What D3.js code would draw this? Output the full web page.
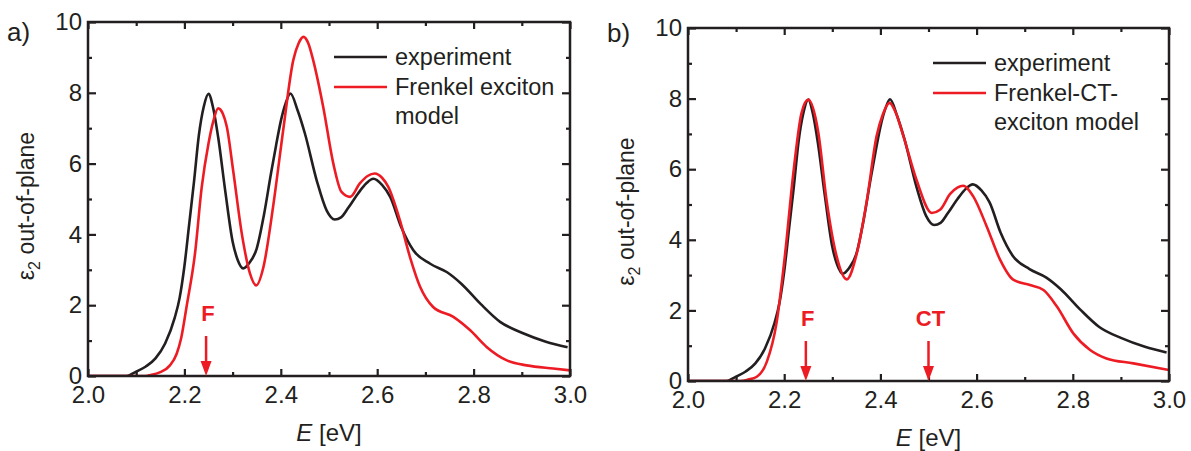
<!DOCTYPE html>
<html>
<head>
<meta charset="utf-8">
<script src="https://cdn.jsdelivr.net/npm/d3@7"></script>
<style>
  body { margin: 0; background: #fff; }
  svg { display: block; }
  text { font-family: "Liberation Sans", Arial, Helvetica, sans-serif; }
</style>
</head>
<body>
<svg id="chart" width="1191" height="451"></svg>
<script>
// ---- data -------------------------------------------------------------
const xTicks = [2.0, 2.2, 2.4, 2.6, 2.8, 3.0];
const xMinorTicks = [2.1, 2.3, 2.5, 2.7, 2.9];
const yTicks = [0, 2, 4, 6, 8, 10];
const yMinorTicks = [1, 3, 5, 7, 9];

// measured out-of-plane eps2 (same data in both panels)
const expEnergy = [2.00, 2.05, 2.08, 2.09, 2.10, 2.12, 2.14, 2.16, 2.18, 2.19, 2.20, 2.21, 2.22, 2.23, 2.24, 2.25,
  2.26, 2.27, 2.285, 2.30, 2.31, 2.322, 2.335, 2.35, 2.365, 2.38, 2.39, 2.40, 2.41, 2.42, 2.435, 2.45,
  2.475, 2.495, 2.512, 2.525, 2.54, 2.56, 2.578, 2.592, 2.61, 2.627, 2.65, 2.675, 2.71, 2.745, 2.775,
  2.815, 2.855, 2.90, 2.95, 2.995];
const expEps = [0, 0, 0.0, 0.05, 0.12, 0.27, 0.5, 0.92, 1.65, 2.2, 3.1, 4.3, 5.5, 6.8, 7.6, 7.97,
  7.55, 6.75, 5.2, 3.8, 3.3, 3.04, 3.2, 3.6, 4.55, 5.75, 6.5, 7.2, 7.7, 7.98, 7.5, 6.85,
  5.5, 4.68, 4.42, 4.48, 4.75, 5.15, 5.45, 5.57, 5.4, 5.06, 4.2, 3.55, 3.17, 2.93, 2.6,
  2.03, 1.53, 1.22, 0.97, 0.81];

// Frenkel exciton model
const frenkelEnergy = [2.00, 2.12, 2.13, 2.15, 2.17, 2.184, 2.193, 2.205, 2.222, 2.236, 2.25, 2.26, 2.27, 2.28,
  2.288, 2.301, 2.319, 2.336, 2.349, 2.364, 2.384, 2.405, 2.426, 2.437, 2.447, 2.457, 2.467, 2.488,
  2.509, 2.526, 2.544, 2.564, 2.58, 2.595, 2.61, 2.623, 2.647, 2.668, 2.689, 2.716, 2.758, 2.793,
  2.827, 2.869, 2.91, 2.965, 3.0];
const frenkelEps = [0, 0, 0.03, 0.11, 0.3, 0.63, 1.05, 2.0, 3.46, 5.34, 6.57, 7.2, 7.56, 7.4,
  7.04, 5.82, 4.03, 2.9, 2.56, 3.08, 4.78, 6.95, 8.93, 9.4, 9.58, 9.4, 8.93, 7.6,
  6.0, 5.2, 5.06, 5.44, 5.65, 5.72, 5.6, 5.34, 4.4, 3.36, 2.52, 1.95, 1.67, 1.29,
  0.82, 0.44, 0.3, 0.21, 0.16];

// Frenkel-CT exciton model
const ctEnergy = [2.00, 2.11, 2.125, 2.143, 2.164, 2.184, 2.202, 2.219, 2.236, 2.25, 2.271, 2.288, 2.309, 2.33,
  2.351, 2.372, 2.392, 2.405, 2.419, 2.432, 2.448, 2.475, 2.507, 2.524, 2.545, 2.56, 2.572, 2.593,
  2.621, 2.649, 2.676, 2.711, 2.739, 2.767, 2.801, 2.836, 2.87, 2.926, 3.0];
const ctEps = [0, 0, 0.04, 0.12, 0.55, 1.64, 3.62, 5.89, 7.59, 7.97, 7.03, 5.13, 3.53, 2.88,
  3.62, 5.13, 6.93, 7.55, 7.88, 7.6, 6.93, 5.7, 4.76, 4.85, 5.3, 5.48, 5.53, 5.23,
  4.38, 3.43, 2.87, 2.72, 2.58, 2.11, 1.35, 0.88, 0.64, 0.5, 0.31];

const markerLabelsA = ["F"];
const markerEnergyA = [2.245];
const markerLabelsB = ["F", "CT"];
const markerEnergyB = [2.245, 2.50];

const legendLabelsA = [["experiment"], ["Frenkel exciton", "model"]];
const legendLabelsB = [["experiment"], ["Frenkel-CT-", "exciton model"]];

// ---- styling ----------------------------------------------------------
const BLACK = "#231f20";
const RED = "#ed1c24";
const zip = (xs, ys) => xs.map((x, i) => ({ e: x, v: ys[i] }));

const svg = d3.select("#chart");

function drawPanel(cfg) {
  const g = svg.append("g");
  const x = d3.scaleLinear().domain([2.0, 3.0]).range([cfg.left, cfg.right]);
  const y = d3.scaleLinear().domain([0, 10]).range([cfg.bottom, cfg.top]);

  // curves
  const line = d3.line().x(d => x(d.e)).y(d => y(d.v)).curve(d3.curveMonotoneX);
  const clipId = "clip-" + cfg.id;
  svg.append("clipPath").attr("id", clipId)
    .append("rect").attr("x", cfg.left).attr("y", cfg.top)
    .attr("width", cfg.right - cfg.left).attr("height", cfg.bottom - cfg.top);
  const curves = g.append("g").attr("clip-path", `url(#${clipId})`);
  cfg.series.forEach(s => {
    curves.append("path").datum(zip(s.energy, s.eps))
      .attr("fill", "none").attr("stroke", s.color)
      .attr("stroke-width", 2.6).attr("stroke-linejoin", "round")
      .attr("d", line);
  });

  // axes (ticks point inward on all four sides)
  const fs = 24;
  const styleAxis = sel => {
    sel.select(".domain").remove();
    sel.selectAll("line").attr("stroke", BLACK).attr("stroke-width", 2.2);
    sel.selectAll("text").style("font-size", fs + "px").style("fill", BLACK)
      .style("font-family", '"Liberation Sans", Arial, sans-serif');
  };
  g.append("g").attr("transform", `translate(0,${cfg.bottom})`)
    .call(d3.axisBottom(x).tickValues(xTicks).tickFormat(d3.format(".1f")).tickSize(-7).tickPadding(10))
    .call(styleAxis);
  g.append("g").attr("transform", `translate(0,${cfg.bottom})`)
    .call(d3.axisBottom(x).tickValues(xMinorTicks).tickFormat("").tickSize(-4))
    .call(styleAxis);
  g.append("g").attr("transform", `translate(0,${cfg.top})`)
    .call(d3.axisTop(x).tickValues(xTicks).tickFormat("").tickSize(-7))
    .call(styleAxis);
  g.append("g").attr("transform", `translate(0,${cfg.top})`)
    .call(d3.axisTop(x).tickValues(xMinorTicks).tickFormat("").tickSize(-4))
    .call(styleAxis);
  g.append("g").attr("transform", `translate(${cfg.left},0)`)
    .call(d3.axisLeft(y).tickValues(yTicks).tickFormat(d3.format("d")).tickSize(-8).tickPadding(6))
    .call(styleAxis);
  g.append("g").attr("transform", `translate(${cfg.left},0)`)
    .call(d3.axisLeft(y).tickValues(yMinorTicks).tickFormat("").tickSize(-4))
    .call(styleAxis);
  g.append("g").attr("transform", `translate(${cfg.right},0)`)
    .call(d3.axisRight(y).tickValues(yTicks).tickFormat("").tickSize(-8))
    .call(styleAxis);
  g.append("g").attr("transform", `translate(${cfg.right},0)`)
    .call(d3.axisRight(y).tickValues(yMinorTicks).tickFormat("").tickSize(-4))
    .call(styleAxis);

  // frame
  g.append("rect").attr("x", cfg.left).attr("y", cfg.top)
    .attr("width", cfg.right - cfg.left).attr("height", cfg.bottom - cfg.top)
    .attr("fill", "none").attr("stroke", BLACK).attr("stroke-width", 2.5);

  // axis titles
  const xl = g.append("text").attr("x", (cfg.left + cfg.right) / 2).attr("y", cfg.bottom + 65)
    .attr("text-anchor", "middle").style("font-size", "24px").style("fill", BLACK);
  xl.append("tspan").style("font-style", "italic").text("E");
  xl.append("tspan").text(" [eV]");

  const yl = g.append("text")
    .attr("transform", `translate(${cfg.left - 54},${(cfg.top + cfg.bottom) / 2 + 7}) rotate(-90)`)
    .attr("text-anchor", "middle").style("font-size", "23px").style("fill", BLACK);
  yl.append("tspan").text("\u03b5");
  yl.append("tspan").attr("dy", 6).style("font-size", "16px").text("2");
  yl.append("tspan").attr("dy", -6).text(" out-of-plane");

  // panel letter
  g.append("text").attr("x", cfg.letterX).attr("y", cfg.letterY)
    .style("font-size", "26px").style("fill", BLACK).text(cfg.letter);

  // transition markers
  cfg.markers.forEach(m => {
    const mx = x(m.e);
    const y0 = y(0);
    g.append("text").attr("x", mx + 2).attr("y", y0 - 55)
      .attr("text-anchor", "middle").style("font-size", "22px").style("font-weight", "bold")
      .style("fill", RED).text(m.label);
    g.append("line").attr("x1", mx).attr("x2", mx).attr("y1", y0 - 40).attr("y2", y0 - 12)
      .attr("stroke", RED).attr("stroke-width", 2.5);
    g.append("path").attr("d", `M${mx - 5.5},${y0 - 15} L${mx + 5.5},${y0 - 15} L${mx},${y0} Z`)
      .attr("fill", RED);
  });

  // legend
  const lg = g.append("g");
  cfg.legend.forEach((entry, i) => {
    const ly = cfg.legendY + i * 30;
    lg.append("line").attr("x1", cfg.legendX).attr("x2", cfg.legendX + 53)
      .attr("y1", ly).attr("y2", ly)
      .attr("stroke", cfg.series[i].color).attr("stroke-width", 2.6);
    entry.forEach((t, j) => {
      lg.append("text").attr("x", cfg.legendX + 61).attr("y", ly + 8 + j * 29)
        .style("font-size", "23.5px").style("fill", BLACK).text(t);
    });
  });
}

drawPanel({
  id: "a", left: 88, right: 570, top: 22, bottom: 376,
  letter: "a)", letterX: 7, letterY: 41,
  series: [
    { energy: expEnergy, eps: expEps, color: BLACK },
    { energy: frenkelEnergy, eps: frenkelEps, color: RED }
  ],
  legend: legendLabelsA, legendX: 334, legendY: 57,
  markers: markerLabelsA.map((l, i) => ({ label: l, e: markerEnergyA[i] }))
});

drawPanel({
  id: "b", left: 688, right: 1169, top: 28, bottom: 381,
  letter: "b)", letterX: 607, letterY: 42,
  series: [
    { energy: expEnergy, eps: expEps, color: BLACK },
    { energy: ctEnergy, eps: ctEps, color: RED }
  ],
  legend: legendLabelsB, legendX: 933, legendY: 63,
  markers: markerLabelsB.map((l, i) => ({ label: l, e: markerEnergyB[i] }))
});
</script>
</body>
</html>
